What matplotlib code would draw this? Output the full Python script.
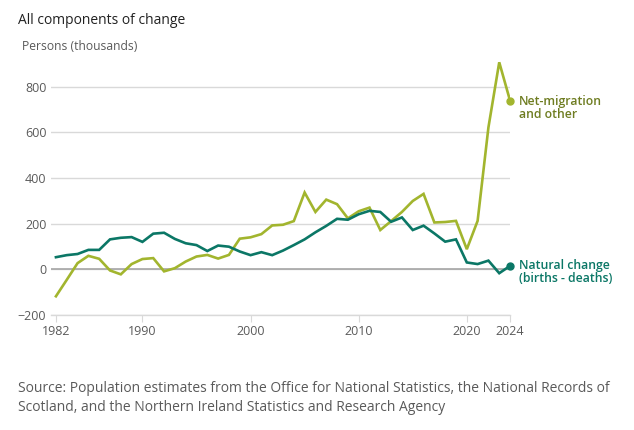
import matplotlib.pyplot as plt
import numpy as np

plt.rcParams['font.family'] = ['Open Sans', 'DejaVu Sans']

years = list(range(1982, 2025))

natural_change = [53, 62, 67, 85, 85, 131, 138, 141, 120, 156, 160,
                  133, 114, 106, 80, 104, 99, 78, 62, 75, 62, 82,
                  106, 131, 162, 190, 221, 217, 241, 256, 251, 208,
                  227, 172, 191, 157, 121, 131, 30, 23, 38, -17, 15]

net_migration = [-118, -46, 27, 59, 46, -5, -22, 23, 45, 49, -9,
                 5, 34, 56, 63, 47, 63, 134, 140, 154, 192, 195,
                 211, 336, 251, 305, 285, 223, 254, 270, 172, 211,
                 251, 299, 330, 205, 207, 212, 88, 212, 621, 906, 738]

xticks = [1982, 1990, 2000, 2010, 2020, 2024]
yticks = [-200, 0, 200, 400, 600, 800]

green = '#a2b52e'
teal = '#0b7766'
grey_text = '#5a5a5a'

fig = plt.figure(figsize=(6.34, 4.3), dpi=100)
ax = fig.add_axes([0.0797, 0.2674, 0.7248, 0.5952])

ax.plot(years, net_migration, color=green, lw=1.9, zorder=3, solid_joinstyle='miter')
ax.plot(years, natural_change, color=teal, lw=1.9, zorder=4, solid_joinstyle='miter')
ax.plot(years[-1], net_migration[-1], 'o', color=green, ms=5, clip_on=False, zorder=5)
ax.plot(years[-1], natural_change[-1], 'o', color=teal, ms=5, clip_on=False, zorder=5)

ax.set_xlim(1981.5, 2024)
ax.set_ylim(-200, 920)
ax.set_xticks(xticks)
ax.set_yticks(yticks)
ax.grid(axis='y', color='#d9d9d9', lw=1)
ax.axhline(0, color='#a6a6a6', lw=1.2, zorder=2)
ax.set_axisbelow(True)

for s in ['top', 'right', 'left']:
    ax.spines[s].set_visible(False)
ax.spines['bottom'].set_color('#d9d9d9')
ax.spines['bottom'].set_linewidth(1)

ax.tick_params(axis='x', length=5, color='#d9d9d9', labelsize=9, labelcolor=grey_text, pad=2)
ax.tick_params(axis='y', length=0, labelsize=9, labelcolor=grey_text, pad=3)

ax.annotate('Net-migration\nand other', xy=(years[-1], net_migration[-1]),
            xytext=(9, 6), textcoords='offset pixels', va='top', ha='left',
            fontsize=8.8, fontweight='semibold', color='#6f7d22', linespacing=1.0,
            annotation_clip=False)
ax.annotate('Natural change\n(births - deaths)', xy=(years[-1], natural_change[-1]),
            xytext=(9, 7), textcoords='offset pixels', va='top', ha='left',
            fontsize=8.8, fontweight='semibold', color=teal, linespacing=1.0,
            annotation_clip=False)

fig.text(18 / 634, 1 - 20 / 430, 'All components of change', fontsize=10,
         color='#222222', va='center', ha='left')
fig.text(22 / 634, 1 - 47 / 430, 'Persons (thousands)', fontsize=8.7,
         color=grey_text, va='center', ha='left')
fig.text(18 / 634, 1 - 398 / 430,
         'Source: Population estimates from the Office for National Statistics, the National Records of\n'
         'Scotland, and the Northern Ireland Statistics and Research Agency',
         fontsize=10, color=grey_text, va='center', ha='left', linespacing=1.45)

fig.savefig('out.png', dpi=100)
